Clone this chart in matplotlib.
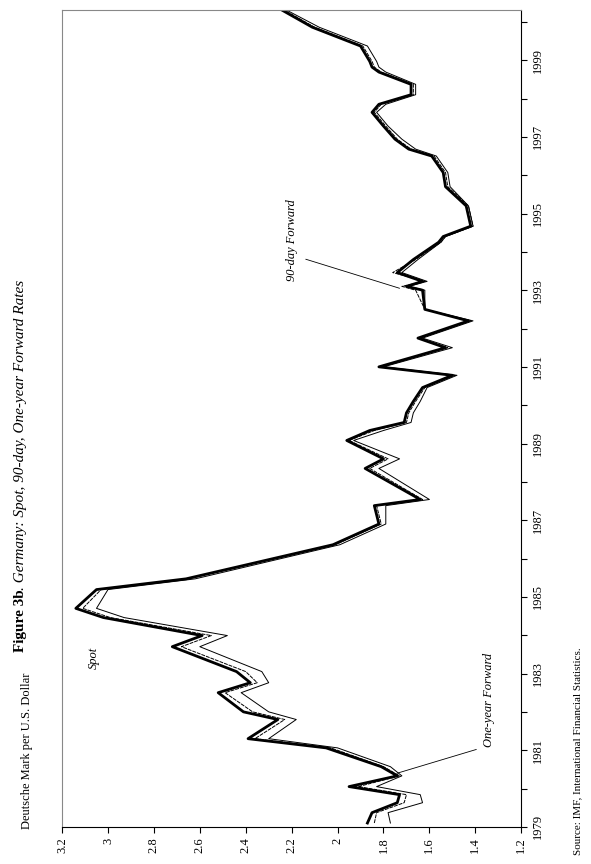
import matplotlib.pyplot as plt

plt.rcParams['font.family'] = ['Liberation Serif', 'DejaVu Serif']

years = [1979.1, 1979.37, 1979.63, 1979.84, 1980.05, 1980.33, 1980.57, 1981.06, 1981.3, 1981.8,
         1982.0, 1982.5, 1982.76, 1983.05, 1983.7, 1983.99, 1984.46, 1984.7, 1985.19, 1985.47,
         1986.36, 1986.9, 1987.38, 1987.54, 1988.35, 1988.6, 1989.08, 1989.34, 1989.55, 1989.8,
         1990.1, 1990.46, 1990.78, 1991.0, 1991.5, 1991.75, 1992.2, 1992.5, 1993.0, 1993.1,
         1993.23, 1993.46, 1993.8, 1994.25, 1994.4, 1994.67, 1995.2, 1995.7, 1996.07, 1996.5,
         1996.68, 1996.94, 1997.28, 1997.64, 1997.85, 1998.1, 1998.37, 1998.69, 1998.82, 1998.97,
         1999.37, 1999.86, 2000.3]
spot = [1.87, 1.85, 1.74, 1.73, 1.95, 1.74, 1.81, 2.05, 2.39, 2.26,
        2.41, 2.52, 2.38, 2.44, 2.72, 2.59, 3.02, 3.14, 3.05, 2.66,
        2.02, 1.82, 1.84, 1.64, 1.88, 1.80, 1.96, 1.86, 1.71, 1.70,
        1.67, 1.63, 1.50, 1.82, 1.53, 1.65, 1.43, 1.62, 1.63, 1.70,
        1.63, 1.74, 1.67, 1.56, 1.54, 1.42, 1.44, 1.53, 1.54, 1.59,
        1.69, 1.75, 1.80, 1.85, 1.82, 1.68, 1.68, 1.82, 1.85, 1.86,
        1.90, 2.11, 2.24]
fwd_90 = [1.84, 1.83, 1.71, 1.70, 1.91, 1.73, 1.80, 2.03, 2.36, 2.23,
          2.37, 2.49, 2.35, 2.40, 2.68, 2.55, 2.99, 3.11, 3.03, 2.65,
          2.01, 1.81, 1.83, 1.63, 1.86, 1.78, 1.95, 1.84, 1.70, 1.69,
          1.66, 1.62, 1.49, 1.81, 1.52, 1.64, 1.42, 1.62, 1.66, 1.72,
          1.62, 1.76, 1.66, 1.55, 1.53, 1.41, 1.43, 1.52, 1.53, 1.58,
          1.68, 1.74, 1.79, 1.84, 1.81, 1.67, 1.67, 1.81, 1.84, 1.85,
          1.89, 2.10, 2.23]
fwd_1y = [1.77, 1.78, 1.63, 1.64, 1.83, 1.72, 1.77, 2.00, 2.30, 2.18,
          2.30, 2.42, 2.30, 2.33, 2.60, 2.48, 2.93, 3.05, 3.00, 2.62,
          1.99, 1.79, 1.79, 1.60, 1.82, 1.73, 1.93, 1.80, 1.68, 1.67,
          1.64, 1.61, 1.48, 1.80, 1.50, 1.63, 1.41, 1.62, 1.62, 1.69,
          1.61, 1.72, 1.65, 1.55, 1.53, 1.41, 1.43, 1.51, 1.52, 1.57,
          1.66, 1.72, 1.78, 1.83, 1.79, 1.66, 1.66, 1.79, 1.82, 1.83,
          1.87, 2.08, 2.22]

year_ticks = [1979, 1981, 1983, 1985, 1987, 1989, 1991, 1993, 1995, 1997, 1999]
val_ticks = [3.2, 3.0, 2.8, 2.6, 2.4, 2.2, 2.0, 1.8, 1.6, 1.4, 1.2]
val_labels = ['3.2', '3', '2.8', '2.6', '2.4', '2.2', '2', '1.8', '1.6', '1.4', '1.2']

fig = plt.figure(figsize=(5.91, 8.64), dpi=100)
ax = fig.add_axes([0.105, 0.043, 0.777, 0.945])

# chart is printed rotated: value runs left->right (inverted), time runs upward
ax.plot(fwd_1y, years, color='black', lw=0.7)
ax.plot(fwd_90, years, color='black', lw=0.7, ls=(0, (4, 1)))
ax.plot(spot, years, color='black', lw=2.0)

ax.set_xlim(3.2, 1.2)
ax.set_ylim(1979.0, 2000.3)
ax.set_xticks(val_ticks)
ax.set_xticklabels(val_labels, rotation=90, fontsize=9)
ax.yaxis.tick_right()
ax.set_yticks(range(1979, 2001), minor=True)
ax.set_yticks(year_ticks)
ax.set_yticklabels([str(y) for y in year_ticks], rotation=90, va='center', fontsize=9)
ax.tick_params(direction='out', length=4, width=0.8)
ax.tick_params(which='minor', direction='out', length=4, width=0.8)
for s in ['left', 'top']:
    ax.spines[s].set_color('#888888')

ax.text(3.06, 1983.4, 'Spot', rotation=90, style='italic', fontsize=9, ha='center', va='center')
ax.annotate('One-year Forward', xy=(1.74, 1980.4), xytext=(1.34, 1982.3),
            rotation=90, style='italic', fontsize=9, ha='center', va='center',
            arrowprops=dict(arrowstyle='-', lw=0.6, color='black', shrinkA=3, shrinkB=0,
                            relpos=(0.0, 0.0)))
ax.annotate('90-day Forward', xy=(1.73, 1993.05), xytext=(2.2, 1994.3),
            rotation=90, style='italic', fontsize=9, ha='center', va='center',
            arrowprops=dict(arrowstyle='-', lw=0.6, color='black', shrinkA=4, shrinkB=0,
                            relpos=(1.0, 0.3)))

fig.text(0.045, 0.04, 'Deutsche Mark per U.S. Dollar', rotation=90, fontsize=9,
         ha='center', va='bottom')

# title: bold part then italic part stacked upward
t1 = fig.text(0.035, 0.245, 'Figure 3b', rotation=90, fontsize=11, weight='bold',
              ha='center', va='bottom')
fig.canvas.draw()
bb = t1.get_window_extent().transformed(fig.transFigure.inverted())
fig.text(0.035, bb.y1, '. Germany: Spot, 90-day, One-year Forward Rates', rotation=90,
         fontsize=11, style='italic', ha='center', va='bottom')
fig.text(0.978, 0.01, 'Source: IMF, International Financial Statistics.', rotation=90,
         fontsize=8, ha='center', va='bottom')

fig.savefig('out.png', dpi=100)
